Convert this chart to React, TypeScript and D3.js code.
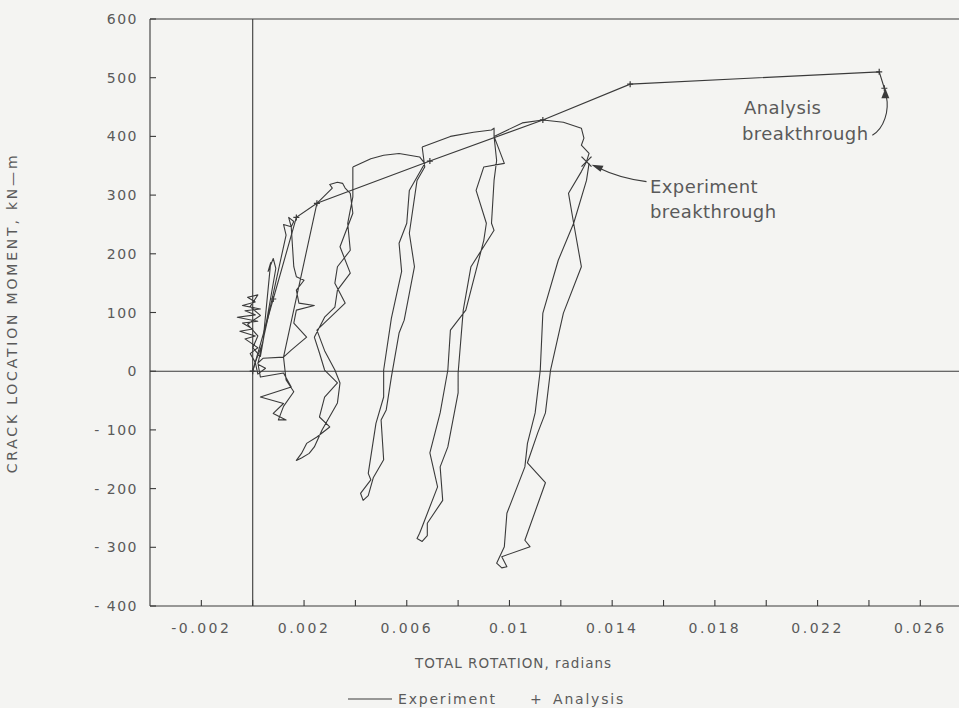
import React from "react";
import * as d3 from "d3";

const W = 959;
const H = 708;

// Axis ticks
const yTickValues = [600, 500, 400, 300, 200, 100, 0, -100, -200, -300, -400];
const yTickLabels = ["600", "500", "400", "300", "200", "100", "0", "- 100", "- 200", "- 300", "- 400"];
const xLabelValues = [-0.002, 0.002, 0.006, 0.01, 0.014, 0.018, 0.022, 0.026];
const xLabelTexts = ["-0.002", "0.002", "0.006", "0.01", "0.014", "0.018", "0.022", "0.026"];
const xMinorTicks = [-0.002, 0, 0.002, 0.004, 0.006, 0.008, 0.01, 0.012, 0.014, 0.016, 0.018, 0.02, 0.022, 0.024, 0.026, 0.028];

// Experiment: cyclic loading path [rotation (rad), moment (kN-m)]
const expCycle1: [number, number][] = [
  [0, 0], [0.0001, 15], [-0.0001, 30], [0.0002, 40], [-0.0003, 55], [0.0001, 60],
  [-0.0005, 68], [0.0, 72], [-0.0004, 82], [0.0002, 85], [-0.0006, 92], [0.0001, 96],
  [-0.0003, 103], [0.0003, 106], [-0.0004, 112], [0.0001, 118], [-0.0002, 126],
  [0.0002, 130], [-0.0001, 110], [0.0003, 95], [-0.0002, 80], [0.0002, 60], [0.0, 40],
  [0.0003, 25], [0.0004, 50], [0.0007, 185], [0.0006, 170], [0.0008, 192], [0.0009, 175],
  [0.0006, 100], [0.0004, 50], [0.0001, 15], [0.0002, -5], [0.0005, 5], [0.0002, 12],
];
const expCycle2: [number, number][] = [
  [0.0002, 12], [0.0013, 232], [0.0012, 250], [0.0015, 246], [0.0014, 262], [0.0016, 255],
  [0.0015, 246], [0.0016, 178], [0.0017, 161], [0.0020, 155], [0.0017, 138], [0.0018, 116],
  [0.0024, 112], [0.0017, 104], [0.0016, 82], [0.0021, 58], [0.0015, 36], [0.0012, 24],
  [0.0004, 22], [0.0002, 14], [0.0003, -10], [0.0012, -3], [0.0015, -27], [0.0003, -44],
  [0.0012, -55], [0.0008, -72], [0.0013, -83], [0.0010, -83], [0.0012, -60], [0.0016, -35],
  [0.0013, -15], [0.0012, 24], [0.0025, 286],
];
const expCycle3: [number, number][] = [
  [0.0025, 286], [0.0031, 312], [0.0030, 318], [0.0033, 322], [0.0035, 320], [0.0036, 312],
  [0.0038, 303], [0.0039, 269], [0.0036, 235], [0.0034, 212], [0.0038, 167], [0.0033, 138],
  [0.0032, 109], [0.0028, 92], [0.0024, 58], [0.0026, 31], [0.0028, 2], [0.0033, -20],
  [0.0028, -44], [0.0026, -78], [0.0030, -95], [0.0025, -112], [0.0021, -123], [0.0019, -140],
  [0.0017, -152], [0.0019, -148], [0.0022, -140], [0.0024, -129], [0.0027, -100], [0.0033, -54],
  [0.0034, -20], [0.0032, 2], [0.0028, 35], [0.0025, 70], [0.0036, 116], [0.0032, 150],
  [0.0033, 178], [0.0038, 206], [0.0037, 252], [0.0039, 297], [0.0039, 348],
];
const expCycle4: [number, number][] = [
  [0.0039, 348], [0.0046, 362], [0.0051, 368], [0.0057, 371], [0.0065, 365], [0.0067, 354],
  [0.0061, 308], [0.0060, 252], [0.0057, 218], [0.0058, 170], [0.0054, 90], [0.0051, 2],
  [0.0051, -44], [0.0048, -89], [0.0045, -174], [0.0046, -185], [0.0042, -208], [0.0043, -220],
  [0.0045, -212], [0.0047, -181], [0.0051, -151], [0.0050, -83], [0.0052, -66], [0.0054, -10],
  [0.0057, 65], [0.0059, 87], [0.0063, 178], [0.0061, 235], [0.0064, 325], [0.0067, 348],
  [0.0066, 382],
];
const expCycle5: [number, number][] = [
  [0.0066, 382], [0.0077, 400], [0.0086, 407], [0.0093, 411], [0.0094, 414], [0.0094, 400],
  [0.0098, 354], [0.0090, 348], [0.0087, 308], [0.0091, 252], [0.0090, 223], [0.0083, 104],
  [0.0077, 70], [0.0076, 2], [0.0073, -71], [0.0069, -139], [0.0072, -197], [0.0066, -265],
  [0.0065, -276], [0.0064, -285], [0.0066, -290], [0.0068, -280], [0.0068, -259], [0.0074, -220],
  [0.0073, -163], [0.0076, -129], [0.0080, -37], [0.0080, -3], [0.0082, 104], [0.0085, 178],
  [0.0094, 240], [0.0093, 252], [0.0094, 325], [0.0095, 359], [0.0094, 400],
];
const expCycle6: [number, number][] = [
  [0.0094, 400], [0.0105, 423], [0.0113, 428], [0.0121, 424], [0.0128, 414], [0.0129, 397],
  [0.0128, 385], [0.0131, 371], [0.0130, 357], [0.0128, 340], [0.0123, 303], [0.0125, 252],
  [0.0119, 189], [0.0113, 99], [0.0112, 2], [0.0110, -71], [0.0107, -123], [0.0106, -163],
  [0.0099, -242], [0.0098, -299], [0.0095, -327], [0.0097, -335], [0.0099, -333], [0.0097, -316],
  [0.0108, -299], [0.0106, -288], [0.0114, -190], [0.0107, -156], [0.0111, -105], [0.0114, -71],
  [0.0116, 2], [0.0121, 99], [0.0128, 178], [0.0125, 252], [0.0130, 325], [0.0131, 354],
];
const experimentCycles = [expCycle1, expCycle2, expCycle3, expCycle4, expCycle5, expCycle6];

// Analysis
const analysisX = [0, 0.0008, 0.0017, 0.0025, 0.0069, 0.0113, 0.0147, 0.0244, 0.0246];
const analysisY = [0, 123, 262, 286, 358, 428, 489, 510, 482];

// Breakthrough points
const expBreak: [number, number] = [0.0130, 357];
const anaBreak: [number, number] = [0.0246, 482];

const FONT = "'DejaVu Sans', sans-serif";
const INK = "#3a3a3a";
const TXT = "#5a5a5a";

export default function App() {
  const x = d3.scaleLinear().domain([-0.004, 0.03]).range([150, 1023]);
  const y = d3.scaleLinear().domain([-400, 600]).range([606, 19]);
  const line = d3
    .line<[number, number]>()
    .x((d) => x(d[0]))
    .y((d) => y(d[1]));

  const expPath = experimentCycles.map((c) => line(c) || "").join(" ");
  const anaPts: [number, number][] = analysisX.map((v, i) => [v, analysisY[i]]);
  const anaPath = line(anaPts) || "";

  const bx = x(expBreak[0]);
  const by = y(expBreak[1]);
  const ax = x(anaBreak[0]);
  const ay = y(anaBreak[1]);

  const left = x.range()[0];
  const right = x.range()[1];
  const top = y(600);
  const bottom = y(-400);

  return (
    <svg
      width={W}
      height={H}
      style={{ position: "absolute", left: 0, top: 0, background: "#f4f4f2" }}
    >
      <rect x={0} y={0} width={W} height={H} fill="#f4f4f2" />
      {/* frame */}
      <g stroke={INK} strokeWidth={1.1} fill="none">
        <line x1={left} x2={right} y1={top} y2={top} />
        <line x1={left} x2={left} y1={top} y2={bottom} />
        <line x1={left} x2={right} y1={bottom} y2={bottom} />
        <line x1={left} x2={right} y1={y(0)} y2={y(0)} />
        <line x1={x(0)} x2={x(0)} y1={top} y2={bottom} />
        {yTickValues.map((v) => (
          <line key={"yt" + v} x1={left} x2={left + 6} y1={y(v)} y2={y(v)} />
        ))}
        {xMinorTicks.map((v) => (
          <line key={"xt" + v} x1={x(v)} x2={x(v)} y1={bottom} y2={bottom - 6} />
        ))}
      </g>
      {/* tick labels */}
      <g fill={TXT} fontFamily={FONT} fontSize={14} letterSpacing={1.5}>
        {yTickValues.map((v, i) => (
          <text key={"yl" + v} x={138} y={y(v) + 5} textAnchor="end">
            {yTickLabels[i]}
          </text>
        ))}
        {xLabelValues.map((v, i) => (
          <text key={"xl" + v} x={x(v)} y={633} textAnchor="middle" letterSpacing={2.5}>
            {xLabelTexts[i]}
          </text>
        ))}
      </g>
      {/* axis titles */}
      <text
        transform={`translate(17, 313) rotate(-90)`}
        textAnchor="middle"
        fill={TXT}
        fontFamily={FONT}
        fontSize={14}
        letterSpacing={2.8}
      >
        CRACK LOCATION MOMENT, kN—m
      </text>
      <text x={415} y={668} fill={TXT} fontFamily={FONT} fontSize={13.5} letterSpacing={1}>
        TOTAL ROTATION, radians
      </text>
      {/* legend */}
      <line x1={348} x2={392} y1={699} y2={699} stroke={INK} strokeWidth={1.1} />
      <text x={398} y={704} fill={TXT} fontFamily={FONT} fontSize={14} letterSpacing={1.8}>
        Experiment
      </text>
      <text x={530} y={704} fill={TXT} fontFamily={FONT} fontSize={14}>+</text>
      <text x={553} y={704} fill={TXT} fontFamily={FONT} fontSize={14} letterSpacing={1.8}>
        Analysis
      </text>
      {/* data */}
      <path d={expPath} fill="none" stroke={INK} strokeWidth={1.1} strokeLinejoin="round" />
      <path d={anaPath} fill="none" stroke={INK} strokeWidth={1.1} />
      {anaPts.map((d, i) => (
        <path
          key={"am" + i}
          d={`M${x(d[0]) - 3},${y(d[1])}h6M${x(d[0])},${y(d[1]) - 3}v6`}
          stroke={INK}
          strokeWidth={1.2}
        />
      ))}
      {/* experiment breakthrough */}
      <path d={`M${bx - 5},${by - 5}L${bx + 5},${by + 5}M${bx + 5},${by - 5}L${bx - 5},${by + 5}`} stroke={INK} strokeWidth={1.3} />
      <path
        d={`M${bx + 60},${by + 20} Q${bx + 32},${by + 16} ${bx + 14},${by + 7}`}
        fill="none"
        stroke={INK}
        strokeWidth={1.1}
      />
      <path d={`M${bx + 5},${by + 3} L${bx + 17},${by + 4} L${bx + 14},${by + 10} Z`} fill={INK} />
      <g fill={TXT} fontFamily={FONT} fontSize={18} letterSpacing={0.4}>
        <text x={650} y={193}>Experiment</text>
        <text x={650} y={218}>breakthrough</text>
        <text x={744} y={114}>Analysis</text>
        <text x={742} y={140}>breakthrough</text>
      </g>
      {/* analysis breakthrough */}
      <path
        d={`M${ax - 12},${ay + 47} C${ax},${ay + 40} ${ax + 5},${ay + 22} ${ax + 2},${ay + 8}`}
        fill="none"
        stroke={INK}
        strokeWidth={1.1}
      />
      <path d={`M${ax + 1},${ay} L${ax - 3},${ay + 10} L${ax + 5},${ay + 10} Z`} fill={INK} />
    </svg>
  );
}
